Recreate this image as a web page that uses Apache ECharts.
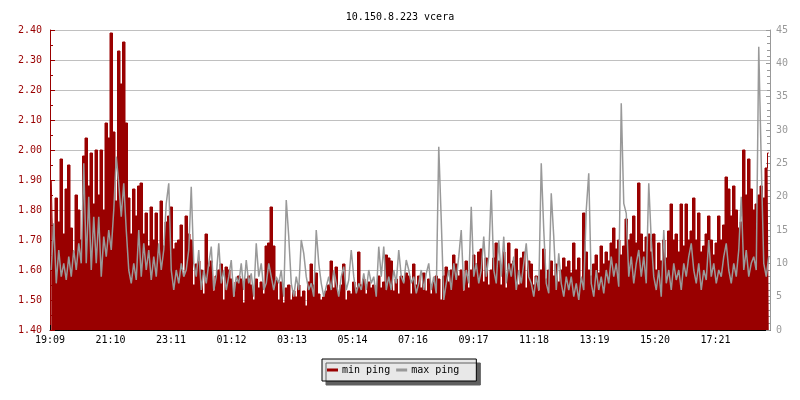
<!DOCTYPE html>
<html>
<head>
<meta charset="utf-8">
<script src="https://cdn.jsdelivr.net/npm/echarts@6/dist/echarts.min.js"></script>
<style>html,body{margin:0;padding:0;background:#fff}#c{width:800px;height:400px}</style>
</head>
<body>
<div id="c"></div>
<script>
// tick labels of the time axis (one every ~121 min, 24.2 samples)
const tickLabels = ['19:09','21:10','23:11','01:12','03:13','05:14','07:16','09:17','11:18','13:19','15:20','17:21'];

// min ping (left axis, ms) — 288 samples over 24 h
const minPing = [
  1.90,1.70,1.84,1.76,1.97,1.72,1.87,1.95,1.74,1.66,1.85,1.80,1.70,1.98,2.04,1.88,1.99,1.82,2.00,1.85,2.00,1.80,2.09,2.04,
  2.39,2.06,1.83,2.33,2.22,2.36,2.09,1.84,1.72,1.87,1.78,1.88,1.89,1.72,1.79,1.68,1.81,1.70,1.79,1.66,1.83,1.68,1.76,1.78,
  1.81,1.67,1.69,1.70,1.75,1.58,1.78,1.72,1.70,1.55,1.62,1.63,1.60,1.52,1.72,1.61,1.63,1.53,1.58,1.60,1.62,1.50,1.61,1.60,
  1.57,1.51,1.56,1.58,1.57,1.49,1.57,1.58,1.55,1.50,1.57,1.54,1.56,1.52,1.68,1.69,1.81,1.68,1.57,1.50,1.56,1.49,1.54,1.55,
  1.50,1.53,1.51,1.55,1.51,1.53,1.48,1.56,1.62,1.55,1.59,1.52,1.50,1.51,1.53,1.55,1.63,1.54,1.61,1.52,1.55,1.62,1.50,1.53,
  1.52,1.56,1.54,1.66,1.55,1.57,1.52,1.56,1.54,1.55,1.53,1.58,1.54,1.56,1.65,1.64,1.63,1.53,1.57,1.52,1.58,1.56,1.59,1.58,
  1.52,1.62,1.55,1.58,1.54,1.59,1.53,1.57,1.52,1.56,1.58,1.57,1.50,1.58,1.61,1.56,1.60,1.65,1.62,1.58,1.60,1.53,1.63,1.54,
  1.60,1.65,1.62,1.66,1.67,1.56,1.64,1.55,1.60,1.64,1.69,1.63,1.55,1.66,1.54,1.69,1.62,1.63,1.67,1.55,1.64,1.66,1.54,1.63,
  1.62,1.55,1.58,1.53,1.60,1.67,1.57,1.60,1.63,1.58,1.62,1.56,1.60,1.64,1.61,1.63,1.59,1.69,1.60,1.64,1.57,1.79,1.66,1.60,
  1.58,1.62,1.65,1.59,1.68,1.62,1.66,1.63,1.69,1.74,1.67,1.70,1.65,1.68,1.77,1.70,1.72,1.78,1.69,1.89,1.72,1.66,1.71,1.72,
  1.66,1.72,1.60,1.69,1.63,1.70,1.64,1.73,1.82,1.70,1.72,1.66,1.82,1.68,1.82,1.70,1.73,1.84,1.70,1.79,1.66,1.68,1.72,1.78,
  1.70,1.65,1.69,1.78,1.70,1.75,1.91,1.87,1.78,1.88,1.80,1.74,1.76,2.00,1.85,1.97,1.87,1.80,1.82,1.85,1.88,1.84,1.94,1.99
];

// max ping (right axis, ms)
const maxPing = [
  9,16,7,12,8,10,7.5,11,8,12,9,13,10,25,10,20,9,17,10,17,8,14,11,15,
  12,18,26,22,17,22,15,9,7,10,7.5,15,8,13,9,12,7.5,11,8,13,9,12,19,22,
  9,6,9,7,10,8,9,12,21.5,10,8,12,6,9,7,10,12.5,6,8,13,7,9,6,8,
  10.5,5,8,7,10,6,10.5,7,8.5,5,13,8,10,6,7,10,8,6,8,7,9,5,19.5,14,
  7,5,8,6,13.5,11.5,8,6,7,5,15,10,7,5,6.5,8,6,9,7,5,8,9.5,6,7.5,
  12,8,5.5,7,6,8.5,6,9,7,8,5,12.5,8,12.5,6,8,6,9,7,12,8,7,10.5,9,
  7,8,5.5,7,9,6,8.5,10,6,8,5.5,27.5,16.5,4.5,7,9,6,10,7.5,11,15,6,9,7,
  18.5,8,10,7,9,14,8,11,21,9,7,13.5,8,14,7,10,8,11,6,9,7,10,13,8,
  7,5,8,6,25,15,7,5.5,20.5,14,6,11.5,7,5,8,6,8,5,7,4.5,8,6,18,23.5,
  7,5,9,6,8,5.5,9,7,11,8,10,6.5,34,19,17.5,8,11,7,10,12,8,11,7,22,
  13.5,8,6,9,5,15,7,9,6,10,7.5,9,6,10,8,11,13,9,7,10,6,9,7.5,13.5,
  8,10,7,9,8,11,13,9,7,10,8,12,20,9,12,8,10,11,9,42.5,25,10,8,11
];

const FONT = 'DejaVu Sans Mono';
const STEP = 24.2;
const chart = echarts.init(document.getElementById('c'), null, {renderer: 'canvas'});
chart.setOption({
  animation: false,
  backgroundColor: '#ffffff',
  title: {
    text: '10.150.8.223 vcera', left: 'center', top: 7,
    textStyle: {fontFamily: FONT, fontSize: 10, fontWeight: 'normal', color: '#000'}
  },
  grid: {left: 50, right: 30, top: 30, bottom: 70},
  legend: {
    left: 322, top: 359,
    padding: [6, 17, 6, 5],
    itemGap: 6, itemWidth: 11, itemHeight: 3,
    icon: 'rect',
    backgroundColor: '#e8e8e8', borderColor: '#000', borderWidth: 1,
    shadowColor: '#606060', shadowOffsetX: 4, shadowOffsetY: 4, shadowBlur: 0,
    textStyle: {fontFamily: FONT, fontSize: 10, color: '#000', padding: [0, 0, 0, -1]},
    data: ['min ping', 'max ping']
  },
  xAxis: {
    type: 'value', min: 0, max: 288, interval: STEP,
    axisLine: {lineStyle: {color: '#000'}},
    axisTick: {inside: true, length: 5, lineStyle: {color: '#000'}},
    splitLine: {show: false},
    axisLabel: {
      showMaxLabel: false, margin: 5,
      fontFamily: FONT, fontSize: 10, color: '#000',
      formatter: function (v) {
        const k = Math.round(v / STEP);
        return Math.abs(v - k * STEP) < 0.01 && tickLabels[k] ? tickLabels[k] : '';
      }
    }
  },
  yAxis: [{
    type: 'value', min: 1.4, max: 2.4, interval: 0.1, position: 'left',
    axisLine: {show: true, lineStyle: {color: '#990000'}},
    axisTick: {show: true, inside: true, length: 5, lineStyle: {color: '#990000'}},
    minorTick: {show: true, splitNumber: 2, length: 3, lineStyle: {color: '#990000'}},
    splitLine: {show: true, lineStyle: {color: '#c0c0c0', width: 1}},
    axisLabel: {fontFamily: FONT, fontSize: 10, color: '#990000', margin: 8,
      formatter: v => v.toFixed(2)}
  }, {
    type: 'value', min: 0, max: 45, interval: 5, position: 'right',
    axisLine: {show: true, lineStyle: {color: '#999999'}},
    axisTick: {show: true, inside: true, length: 4, lineStyle: {color: '#999999'}},
    minorTick: {show: true, splitNumber: 5, length: 3, lineStyle: {color: '#999999'}},
    splitLine: {show: false},
    axisLabel: {fontFamily: FONT, fontSize: 10, color: '#999999', margin: 6}
  }],
  series: [{
    name: 'min ping', type: 'line', yAxisIndex: 0, step: 'middle',
    symbol: 'none', showSymbol: false, color: '#990000',
    lineStyle: {width: 1, color: '#990000'},
    areaStyle: {origin: 'start', color: '#990000', opacity: 1},
    data: minPing.map((v, i) => [i + 0.5, v]), z: 2
  }, {
    name: 'max ping', type: 'line', yAxisIndex: 1,
    symbol: 'none', showSymbol: false, color: '#999999',
    lineStyle: {width: 1.5, color: '#999999'},
    data: maxPing.map((v, i) => [i + 0.5, v]), z: 3
  }]
});
</script>
</body>
</html>
